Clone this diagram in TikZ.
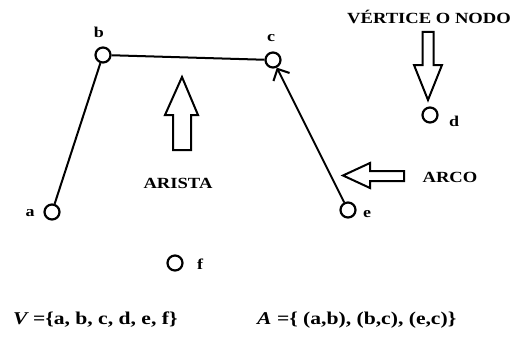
\documentclass[tikz,border=0pt]{standalone}
\usepackage{fontspec}
\setmainfont{Liberation Serif}[FakeStretch=1.2]
\usetikzlibrary{arrows.meta}
\begin{document}
\begin{tikzpicture}[x=1pt,y=-1pt,
  vertex/.style={circle,draw,line width=2.2pt,minimum size=15pt,inner sep=0pt},
  vlabel/.style={font=\fontsize{15}{15}\bfseries\selectfont,inner sep=0pt},
  caption/.style={font=\fontsize{15.5}{15.5}\bfseries\selectfont,inner sep=0pt},
  settext/.style={font=\fontsize{18}{18}\bfseries\selectfont,inner sep=0pt,anchor=west},
  edge/.style={line width=2pt},
  blockarrow/.style={draw,line width=2pt,line join=miter,fill=white}]
\useasboundingbox (0,0) rectangle (516,337);

% vertices
\node[vertex] (a) at (52,212) {};
\node[vertex] (b) at (103,55) {};
\node[vertex] (c) at (273,60) {};
\node[vertex] (d) at (430,115) {};
\node[vertex] (e) at (348,210) {};
\node[vertex] (f) at (175,263) {};

% vertex names
\node[vlabel] (la) at (30,213) {a};
\node[vlabel] (lb) at (99,32) {b};
\node[vlabel] (lc) at (271,38) {c};
\node[vlabel] (ld) at (454,121) {d};
\node[vlabel] (le) at (367,214) {e};
\node[vlabel] (lf) at (200,264) {f};

% edges and the directed arc
\draw[edge] (a) -- (b);
\draw[edge] (b) -- (c);
\draw[edge,-{Straight Barb[length=9pt,width=18pt]}] (e) -- (c);

% block arrows pointing at the parts
\draw[blockarrow] (182,77) -- (198,115) -- (191,115) -- (191,150) -- (173,150) -- (173,115) -- (165,115) -- cycle;
\draw[blockarrow] (428,100) -- (442,65) -- (433.5,65) -- (433.5,32) -- (422.5,32) -- (422.5,65) -- (414,65) -- cycle;
\draw[blockarrow] (343,175.5) -- (370,163) -- (370,171) -- (404,171) -- (404,181) -- (370,181) -- (370,188) -- cycle;

% captions
\node[caption] (tv) at (429,17) {VÉRTICE O NODO};
\node[caption] (ta) at (178,183) {ARISTA};
\node[caption] (tr) at (450,177) {ARCO};

% sets
\node[settext] (setv) at (13,320) {{\itshape V} =\{a, b, c, d, e, f\}};
\node[settext] (seta) at (257,320) {{\itshape A} =\{ (a,b), (b,c), (e,c)\}};
\end{tikzpicture}
\end{document}
